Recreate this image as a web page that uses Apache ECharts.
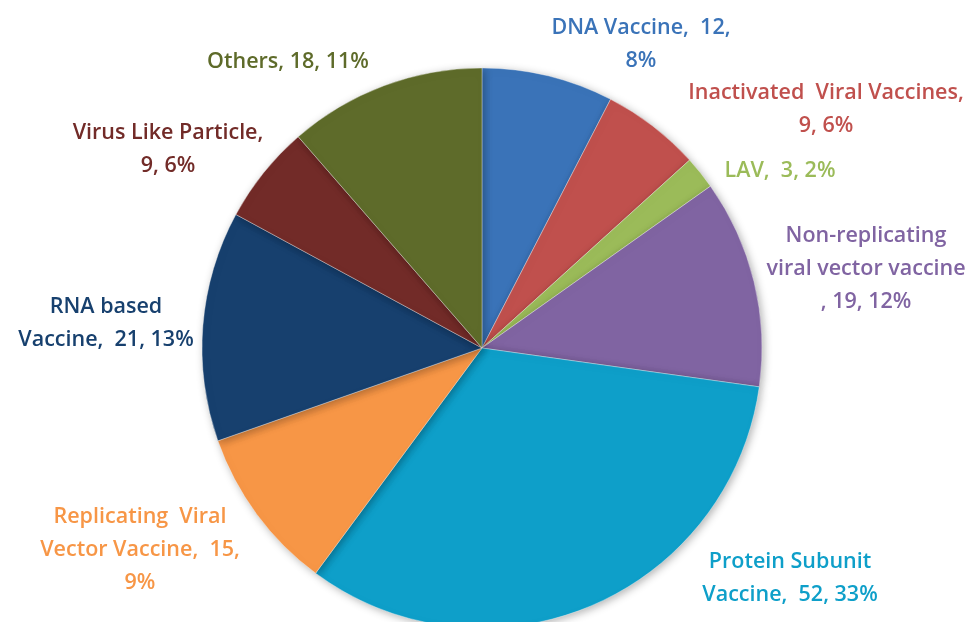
<!DOCTYPE html>
<html><head><meta charset="utf-8">
<script src="https://cdn.jsdelivr.net/npm/echarts@6/dist/echarts.min.js"></script>
<style>html,body{margin:0;padding:0;background:#fff}#c{width:973px;height:622px}</style>
</head><body><div id="c"></div>
<script>
var categories = ['DNA Vaccine', 'Inactivated Viral Vaccines', 'LAV', 'Non-replicating viral vector vaccine', 'Protein Subunit Vaccine', 'Replicating Viral Vector Vaccine', 'RNA based Vaccine', 'Virus Like Particle', 'Others'];
var values = [12, 9, 3, 19, 52, 15, 21, 9, 18];
var colors = ['#3a73b8', '#c0504d', '#9bbb59', '#8064a2', '#0e9fc9', '#f79646', '#17406e', '#722b28', '#5e6b2a'];
var labelTexts = [
  '{b},  {c},\n{d}%',
  'Inactivated  Viral Vaccines,\n{c}, {d}%',
  '{b},  {c}, {d}%',
  'Non-replicating\nviral vector vaccine\n, {c}, {d}%',
  'Protein Subunit\nVaccine,  {c}, {d}%',
  'Replicating  Viral\nVector Vaccine,  {c},\n{d}%',
  'RNA based\nVaccine,  {c}, {d}%',
  '{b},\n{c}, {d}%',
  '{b}, {c}, {d}%'
];
var labelPos = [[641,44],[826,109],[780,171],[866,269],[790,578],[140,550],[106,323],[168,149],[288,62]];

var data = categories.map(function(n,i){
  return {name:n, value:values[i], itemStyle:{color:colors[i]}, label:{color:colors[i]}};
});
var chart = echarts.init(document.getElementById('c'));
chart.setOption({
  animation:false,
  series:[{
    type:'pie',
    center:[482,348],
    radius:280,
    startAngle:90,
    clockwise:true,
    percentPrecision:0,
    data:data,
    itemStyle:{borderColor:'rgba(255,255,255,0.6)', borderWidth:0.6, shadowBlur:8, shadowColor:'rgba(0,0,0,0.3)', shadowOffsetX:2, shadowOffsetY:2},
    label:{
      show:true, position:'outside', overflow:'none', width:400,
      fontFamily:'Open Sans', fontWeight:600, fontSize:21.5, lineHeight:33, align:'center',
      formatter:function(p){
        return labelTexts[p.dataIndex].replace('{b}',p.name).replace('{c}',p.value).replace('{d}',Math.round(p.percent));
      }
    },
    labelLine:{show:false},
    labelLayout:function(p){
      var q = labelPos[p.dataIndex];
      return {x:q[0], y:q[1], align:'center', verticalAlign:'middle'};
    },
    emphasis:{disabled:true}
  }]
});
</script></body></html>
